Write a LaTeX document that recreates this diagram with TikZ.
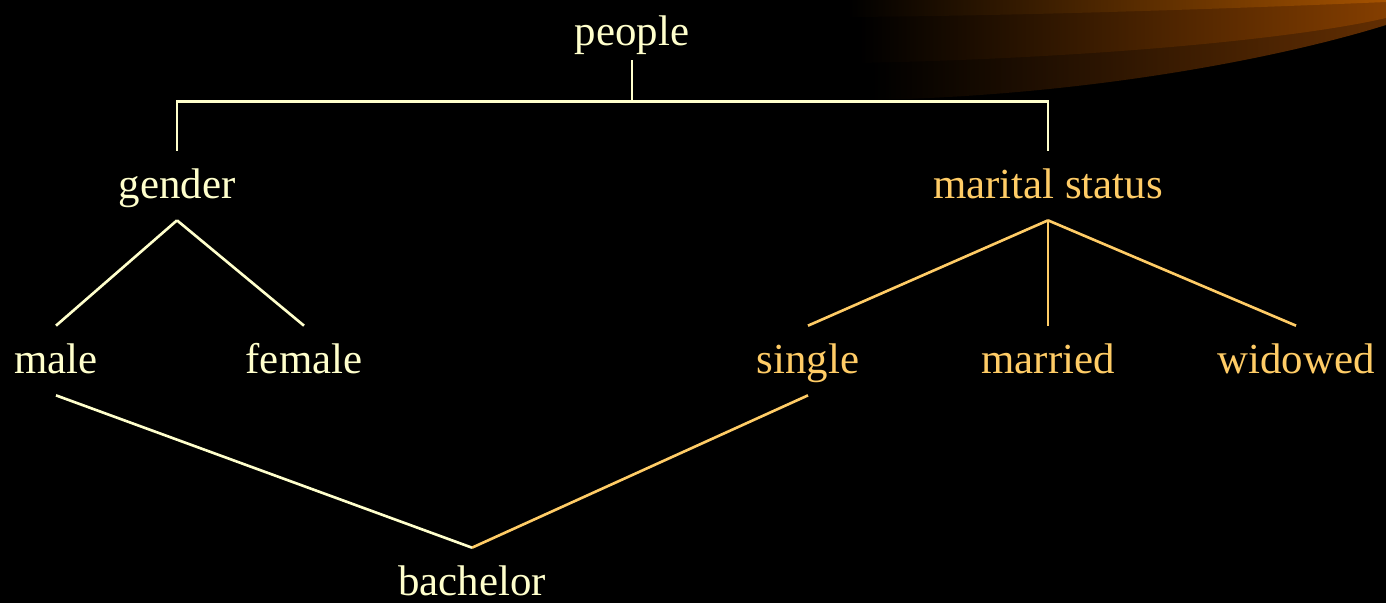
\documentclass[tikz,border=0pt]{standalone}
\usepackage{fontspec}
\setmainfont{Liberation Serif}
\newfontfamily\slidefont{Liberation Serif}
\usepackage{tikz}
\usetikzlibrary{positioning}
\definecolor{treeCream}{RGB}{255,255,204}
\definecolor{treeGold}{RGB}{255,204,102}
\definecolor{swTop}{RGB}{165,82,0}
\definecolor{swMid}{RGB}{132,62,0}
\definecolor{swLow}{RGB}{98,46,2}

\begin{document}
\begin{tikzpicture}[x=0.02cm, y=0.02cm,
  word/.style={anchor=base, inner xsep=0pt, inner ysep=0.24cm,
               text height=0.7cm, text depth=0.2cm,
               font=\slidefont\fontsize{24.4}{29}\selectfont, text=treeCream},
  goldword/.style={word, text=treeGold},
  tree/.style={line width=1.5pt, treeCream, line join=miter},
  goldtree/.style={tree, treeGold}
]
\useasboundingbox (0,0) rectangle (1386,-603);
\fill[black] (0,0) rectangle (1386,-603);
%% Swoosh in the corner
\begin{scope}
  \clip (0,0) rectangle (1386,-603);
  \shade[left color=black, right color=swLow]
    (872,0) -- (1386,0) -- (1386,-25)
    .. controls (1290,-55) and (1100,-95) .. (872,-100) -- cycle;
  \shade[left color=black, right color=swMid]
    (860,0) -- (1386,0) -- (1386,-18)
    .. controls (1300,-38) and (1100,-58) .. (860,-63) -- cycle;
  \shade[left color=black, right color=swTop]
    (848,0) -- (1386,0) -- (1386,-2)
    .. controls (1200,-10) and (1000,-16) .. (848,-17) -- cycle;
\end{scope}
%% Top
\node[word, inner ysep=0.1cm] (people) at (632,-45) {people};
\node[word] (gender) at (177,-198) {gender};
\node[goldword] (marital) at (1048,-198) {marital status};
\draw[tree] (people.south) -- ++(0,-41) coordinate (hub);
\draw[tree] (gender.north) |- (hub) -| (marital.north);
%% Gender
\node[word] (male) at (56,-373) {male};
\node[word] (female) at (304,-373) {female};
\draw[tree] (gender.south) -- (male.north);
\draw[tree] (gender.south) -- (female.north);
%% Marital status
\node[goldword] (single) at (808,-373) {single};
\node[goldword] (married) at (1048,-373) {married};
\node[goldword] (widowed) at (1296,-373) {widowed};
\draw[goldtree] (marital.south) -- (single.north);
\draw[goldtree] (marital.south) -- (married.north);
\draw[goldtree] (marital.south) -- (widowed.north);
%% Bachelor
\node[word] (bachelor) at (472,-595) {bachelor};
\draw[tree] (male.south) -- (bachelor.north);
\draw[goldtree] (single.south) -- (bachelor.north);
\end{tikzpicture}
\end{document}
